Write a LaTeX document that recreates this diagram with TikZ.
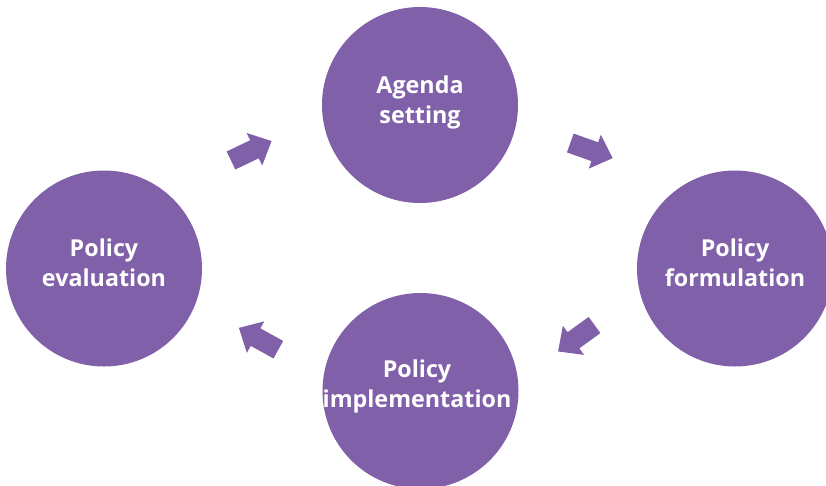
\documentclass[tikz,border=0pt]{standalone}
\usepackage{fontspec}
\setmainfont{Open Sans}
\definecolor{pur}{RGB}{128,96,168}
\tikzset{
  circ/.style={circle, fill=pur, minimum size=196pt, inner sep=0pt},
  lbl/.style={anchor=base, text=white, inner sep=0pt, font=\fontsize{23.3}{28}\selectfont\bfseries},
  blockarrow/.style={fill=pur}
}
\newcommand{\blockarr}[3]{%
  \begin{scope}[shift={(#1,#2)}, rotate=#3]
    \fill[blockarrow] (0,-10) -- (26,-10) -- (26,-18) -- (45,0) -- (26,18) -- (26,10) -- (0,10) -- cycle;
  \end{scope}}
\begin{document}
\begin{tikzpicture}[x=1pt,y=-1pt]
\useasboundingbox (0,0) rectangle (826,485);
\clip (0,0) rectangle (826,485);
\node[circ] (agenda) at (420,105) {};
\node[circ] (formul) at (735,268.5) {};
\node[circ] (implem) at (420.5,391) {};
\node[circ] (evalu) at (104,268.5) {};
\node[lbl] (agendaA) at (420,93.3) {Agenda};
\node[lbl] (agendaB) at (420,123.3) {setting};
\node[lbl] (formulA) at (735,256.7) {Policy};
\node[lbl] (formulB) at (735,286.7) {formulation};
\node[lbl] (implemA) at (417,377) {Policy};
\node[lbl] (implemB) at (417,407) {implementation};
\node[lbl] (evaluA) at (104,256.5) {Policy};
\node[lbl] (evaluB) at (104,286.5) {evaluation};
\blockarr{231}{160.5}{25.6}
\blockarr{570.3}{143}{-19.6}
\blockarr{594.5}{325}{216}
\blockarr{278.3}{349.7}{151}
\end{tikzpicture}
\end{document}
